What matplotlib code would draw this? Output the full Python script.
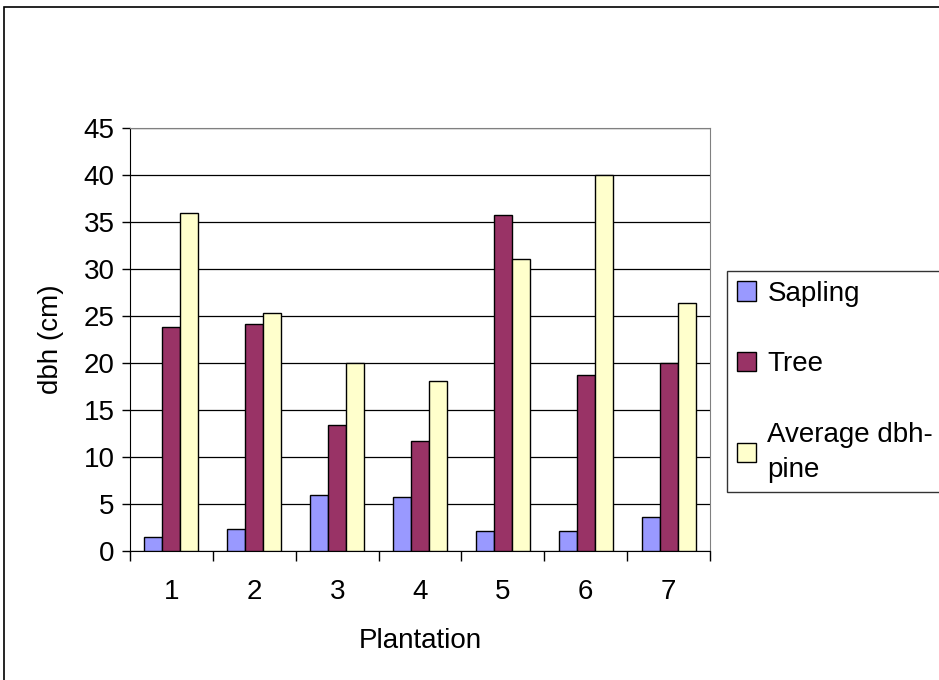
import matplotlib
matplotlib.use("Agg")
import matplotlib.pyplot as plt
import numpy as np
from matplotlib.patches import Rectangle

plt.rcParams['font.family'] = ['Liberation Sans', 'DejaVu Sans']

categories = ["1", "2", "3", "4", "5", "6", "7"]
sapling = [1.5, 2.3, 6.0, 5.7, 2.1, 2.1, 3.6]
tree = [23.8, 24.1, 13.4, 11.7, 35.7, 18.7, 20.0]
avg_pine = [36.0, 25.3, 20.0, 18.1, 31.1, 40.0, 26.4]
series_names = ["Sapling", "Tree", "Average dbh-\npine"]
colors = ["#9999FF", "#993366", "#FFFFCC"]

fs = 20

fig = plt.figure(figsize=(9.39, 6.8), dpi=100)
fig.patches.append(Rectangle((4/939, -0.01), 1.0, 1 - 7/680 + 0.01, transform=fig.transFigure,
                             fill=False, edgecolor='black', linewidth=1.2, clip_on=False))
ax = fig.add_axes([130/939, 1-551/680, 580/939, 423/680])

x = np.arange(len(categories))
w = 0.217
for i, (vals, c, n) in enumerate(zip([sapling, tree, avg_pine], colors, series_names)):
    ax.bar(x + (i-1)*w, vals, w, color=c, edgecolor='black', linewidth=1.0, label=n, zorder=3)

ax.set_xlim(-0.5, 6.5)
ax.set_ylim(0, 45)
ax.set_yticks(np.arange(0, 46, 5))
ax.yaxis.grid(True, color='black', linewidth=0.9, zorder=0)
ax.set_xticks(x)
ax.set_xticklabels(categories)
ax.set_xticks(np.arange(-0.5, 7, 1), minor=True)
ax.tick_params(axis='x', which='major', length=0, pad=20, labelsize=fs)
ax.tick_params(axis='x', which='minor', length=7, direction='out', width=1)
ax.tick_params(axis='y', length=6, direction='out', width=1, labelsize=fs, pad=5)
for s in ['right', 'top']:
    ax.spines[s].set_color('#808080')
ax.spines['left'].set_color('black')
ax.spines['bottom'].set_color('black')
ax.set_xlabel("Plantation", fontsize=fs, labelpad=17)
ax.set_ylabel("dbh (cm)", fontsize=fs, labelpad=14)

leg = fig.legend(loc='upper left', bbox_to_anchor=(727/939, 1-271/680), fontsize=fs,
                 frameon=True, fancybox=False, edgecolor='black', handlelength=0.7,
                 handleheight=0.7, handletextpad=0.4, labelspacing=1.6, borderpad=0.35,
                 borderaxespad=0)
for t in leg.get_texts():
    t.set_linespacing(1.45)
leg.get_frame().set_linewidth(1.0)

fig.savefig("out.png", dpi=100)
